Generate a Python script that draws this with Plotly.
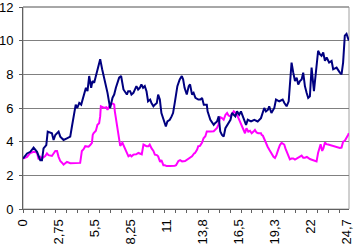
import plotly.graph_objects as go

# ---- data ----
blue_x = [0, 0.31, 0.56, 0.81, 1.07, 1.32, 1.45, 1.57, 1.78, 1.89, 2.21, 2.34, 2.47, 2.72, 2.85,
          3.10, 3.36, 3.61, 3.74, 3.88, 4.03, 4.15, 4.30, 4.45, 4.60, 4.81, 4.93, 5.06, 5.21, 5.31,
          5.44, 5.57, 5.75, 5.90, 6.05, 6.21, 6.46, 6.59, 6.66, 6.84, 6.97, 7.10, 7.24, 7.35, 7.50,
          7.68, 7.94, 8.04, 8.19, 8.29, 8.44, 8.67, 8.80, 8.93, 9.05, 9.18, 9.31, 9.44, 9.56, 9.72,
          9.82, 9.97, 10.08, 10.23, 10.33, 10.46, 10.58, 10.79, 10.92, 11.04, 11.22, 11.36, 11.47,
          11.60, 11.80, 11.98, 12.14, 12.24, 12.35, 12.52, 12.67, 12.77, 12.92, 13.04, 13.18, 13.40,
          13.56, 13.69, 13.82, 14.05, 14.11, 14.32, 14.58, 14.68, 14.83, 14.96, 15.08, 15.21, 15.34,
          15.47, 15.73, 15.86, 15.98, 16.23, 16.36, 16.53, 16.66, 16.79, 17.05, 17.18, 17.43, 17.68,
          17.94, 18.19, 18.32, 18.44, 18.57, 18.73, 18.82, 18.99, 19.21, 19.34, 19.59, 19.85, 19.98,
          20.15, 20.31, 20.40, 20.53, 20.66, 20.79, 20.92, 21.04, 21.17, 21.30, 21.42, 21.55, 21.68,
          21.80, 21.93, 22.06, 22.24, 22.44, 22.56, 22.69, 22.82, 22.95, 23.08, 23.21, 23.40, 23.59,
          23.71, 23.97, 24.11, 24.22, 24.35, 24.47, 24.60, 24.73, 24.91]
blue_y = [3.0, 3.3, 3.4, 3.65, 3.4, 2.9, 2.9, 3.6, 3.8, 4.6, 4.5, 4.1, 4.4, 4.6, 4.3,
          4.1, 4.2, 4.3, 4.9, 5.5, 6.2, 6.0, 6.3, 6.2, 6.6, 7.2, 7.0, 7.9, 7.2, 7.6,
          7.5, 7.9, 8.4, 8.9, 8.3, 7.8, 6.9, 6.3, 6.0, 6.6, 6.8, 7.2, 7.5, 7.8, 7.9,
          7.1, 6.8, 7.0, 7.0, 6.8, 6.9, 7.3, 7.1, 7.2, 7.4, 7.2, 7.3, 7.0, 6.4, 6.5,
          6.3, 6.1, 6.2, 6.3, 6.8, 6.5, 5.7, 5.2, 4.9, 5.2, 5.3, 5.5, 5.7,
          6.3, 7.3, 7.7, 7.9, 7.7, 7.2, 6.8, 7.3, 7.4, 6.8, 6.9, 6.6, 6.5,
          6.5, 6.6, 6.2, 6.2, 5.8, 5.3, 5.0, 5.1, 5.2, 5.5, 4.6, 4.4, 4.3,
          4.8, 5.1, 5.3, 5.7, 5.5, 5.8, 5.6, 5.8, 5.5, 5.0, 5.3, 5.2, 5.3,
          5.2, 5.4, 5.8, 6.0, 5.8, 5.9, 6.1, 5.7, 6.0, 6.5, 6.4, 6.5, 6.3,
          6.1, 6.4, 7.6, 8.7, 8.1, 7.6, 7.8, 7.4, 7.6, 7.7, 8.1, 7.3, 6.9,
          6.6, 6.7, 8.4, 7.0, 8.7, 9.4, 9.2, 9.1, 9.3, 8.8, 9.0, 8.7, 8.8,
          8.3, 8.4, 8.2, 8.1, 8.0, 8.7, 10.3, 10.4, 10.0]

pink_x = [0, 0.31, 0.56, 0.81, 1.07, 1.19, 1.32, 1.45, 1.70, 1.83, 1.95, 2.21, 2.47, 2.60, 2.72,
          2.85, 2.98, 3.10, 3.23, 3.36, 3.61, 3.86, 4.12, 4.37, 4.50, 4.63, 4.76, 4.89, 5.01, 5.14,
          5.27, 5.33, 5.39, 5.57, 5.69, 5.82, 5.90, 5.95, 6.05, 6.21, 6.36, 6.46, 6.59, 6.76, 6.89,
          6.97, 7.02, 7.12, 7.22, 7.33, 7.43, 7.60, 7.73, 7.86, 7.96, 8.06, 8.19, 8.29, 8.44, 8.65,
          8.82, 8.95, 9.08, 9.21, 9.34, 9.44, 9.59, 9.69, 9.83, 9.97, 10.08, 10.23, 10.33, 10.48,
          10.58, 10.73, 10.84, 10.99, 11.22, 11.40, 11.60, 11.70, 11.88, 12.01, 12.16, 12.39, 12.54,
          12.73, 12.92, 13.08, 13.15, 13.31, 13.40, 13.53, 13.69, 13.80, 13.94, 14.05, 14.20, 14.37,
          14.58, 14.68, 14.83, 14.93, 15.08, 15.21, 15.34, 15.48, 15.60, 15.71, 15.85, 15.98, 16.11,
          16.24, 16.36, 16.53, 16.72, 16.89, 16.97, 17.08, 17.22, 17.35, 17.48, 17.62, 17.73, 17.85,
          17.98, 18.19, 18.24, 18.34, 18.46, 18.53, 18.70, 18.84, 19.01, 19.15, 19.26, 19.37, 19.51,
          19.64, 19.77, 19.87, 19.97, 20.06, 20.15, 20.29, 20.40, 20.52, 20.66, 20.79, 20.92, 21.04,
          21.17, 21.30, 21.42, 21.55, 21.70, 21.82, 21.93, 22.08, 22.18, 22.31, 22.44, 22.56, 22.66,
          22.75, 22.87, 22.96, 23.08, 23.19, 23.33, 23.46, 23.71, 23.92, 24.09, 24.22, 24.35, 24.47,
          24.60, 24.73, 24.85, 24.91]
pink_y = [3.0, 3.1, 3.33, 3.4, 3.35, 2.95, 3.1, 3.0, 3.15, 3.3, 3.2, 3.15, 3.45, 3.45, 3.1,
          2.85, 2.75, 2.64, 2.72, 2.8, 2.72, 2.74, 2.72, 2.74, 3.45, 3.55, 3.73, 3.7, 3.7, 3.8,
          3.93, 4.4, 4.5, 4.65, 5.0, 5.1, 5.5, 6.1, 6.05, 6.0, 6.05, 5.9, 6.1, 6.25, 6.25,
          6.2, 5.8, 5.3, 4.8, 4.2, 3.75, 3.93, 3.7, 3.45, 3.2, 3.13, 3.2, 3.13, 3.23, 3.25,
          3.33, 3.3, 3.25, 3.83, 3.75, 3.73, 3.73, 3.83, 3.6, 3.45, 3.23, 3.2, 3.13, 2.8,
          2.9, 2.6, 2.6, 2.55, 2.55, 2.55, 2.57, 2.6, 2.85, 2.9, 2.83, 2.85, 2.93,
          3.0, 3.13, 3.3, 3.33, 3.53, 3.73, 3.75, 3.95, 4.2, 4.32, 4.6, 4.62, 4.6,
          4.62, 4.72, 4.82, 5.0, 5.45, 5.4, 5.3, 5.6, 5.7, 5.55, 5.5, 5.65, 5.8,
          5.7, 5.6, 5.3, 4.9, 4.65, 4.5, 4.8, 4.6, 4.65, 4.5, 4.6, 4.7, 4.55,
          4.5, 4.5, 4.4, 4.35, 4.1, 3.95, 3.7, 3.5, 3.23, 3.1, 3.03, 3.2, 3.53,
          3.8, 3.93, 3.85, 3.83, 3.6, 3.43, 3.2, 2.95, 3.0, 3.0, 2.93, 3.0, 3.05,
          3.13, 3.17, 3.05, 3.05, 3.1, 3.0, 2.97, 2.93, 2.89, 2.85, 2.83, 3.35, 3.6,
          3.85, 3.45, 3.6, 3.95, 3.85, 3.83, 3.8, 3.73, 3.7, 3.65, 3.63, 3.65, 4.0,
          4.05, 4.2, 4.4, 4.5]

x_tick_vals = [0, 2.75, 5.5, 8.25, 11, 13.75, 16.5, 19.25, 22, 24.75]
x_tick_text = ["0", "2,75", "5,5", "8,25", "11", "13,8", "16,5", "19,3", "22", "24,7"]
y_tick_vals = [0, 2, 4, 6, 8, 10, 12]

FONT = "Liberation Sans, Arial, sans-serif"

fig = go.Figure()
fig.add_trace(go.Scatter(x=pink_x, y=pink_y, mode="lines",
                         line=dict(color="#FF00FF", width=2), hoverinfo="skip"))
fig.add_trace(go.Scatter(x=blue_x, y=blue_y, mode="lines",
                         line=dict(color="#000080", width=2), hoverinfo="skip"))

fig.update_layout(
    width=355, height=245,
    margin=dict(l=23, r=6, t=7, b=36, pad=0),
    paper_bgcolor="white", plot_bgcolor="white",
    showlegend=False,
    font=dict(family=FONT, size=13, color="black"),
    shapes=[dict(type="rect", xref="paper", yref="paper", x0=0, y0=0, x1=1, y1=1,
                 line=dict(color="#A0A0A0", width=1), layer="below"),
            dict(type="line", xref="paper", yref="paper", x0=0, y0=1, x1=1, y1=1,
                 line=dict(color="#808080", width=1), layer="below")],
)
fig.update_xaxes(
    range=[0, 24.92], tickmode="array", tickvals=x_tick_vals, ticktext=x_tick_text,
    tickangle=-90, ticks="", showgrid=False, zeroline=False,
    showline=True, linecolor="#606060", linewidth=1,
    ticklabelstandoff=4, automargin=False, ticklabeloverflow="allow",
    minor=dict(tick0=0, dtick=10/12, ticks="outside", ticklen=3, tickcolor="#606060", showgrid=False),
    tickfont=dict(size=13),
)
fig.update_yaxes(
    range=[0, 12], tickmode="array", tickvals=y_tick_vals,
    ticks="outside", ticklen=3, tickcolor="#606060",
    showgrid=True, gridcolor="#808080", gridwidth=1, zeroline=False,
    showline=True, linecolor="#606060", linewidth=1,
    ticklabelstandoff=3, automargin=False, ticklabeloverflow="allow",
    tickfont=dict(size=13),
)

fig.write_html("out.html", config={"displayModeBar": False},
               post_script="document.body.style.margin='0px';document.body.style.overflow='hidden';")
